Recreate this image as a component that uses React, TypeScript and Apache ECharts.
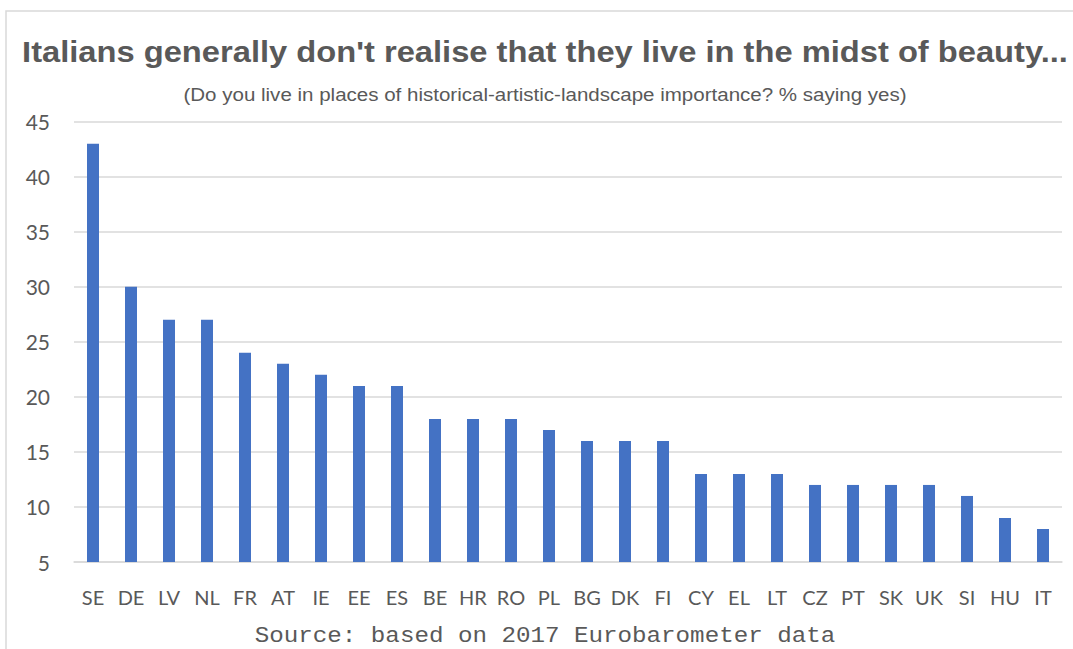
import React, { useEffect, useRef } from "react";
import * as echarts from "echarts";

// Country codes, ordered from highest to lowest share
const countries = [
  "SE", "DE", "LV", "NL", "FR", "AT", "IE", "EE", "ES", "BE", "HR", "RO", "PL",
  "BG", "DK", "FI", "CY", "EL", "LT", "CZ", "PT", "SK", "UK", "SI", "HU", "IT",
];

// % saying yes
const sayingYes = [
  43, 30, 27, 27, 24, 23, 22, 21, 21, 18, 18, 18, 17,
  16, 16, 16, 13, 13, 13, 12, 12, 12, 12, 11, 9, 8,
];

const yTicks = { min: 5, max: 45, interval: 5 };

const titleText = "Italians generally don't realise that they live in the midst of beauty...";
const subtitleText =
  "(Do you live in places of historical-artistic-landscape importance? % saying yes)";
const sourceText = "Source: based on 2017 Eurobarometer data";

const textColor = "#595959";
const gridColor = "#d9d9d9";

// Centered heading text, stretched horizontally around its own centre
function headingText(
  text: string,
  y: number,
  font: string,
  scaleX: number
) {
  return {
    type: "text",
    x: 545,
    y,
    scaleX,
    silent: true,
    style: {
      text,
      x: 0,
      y: 0,
      font,
      fill: textColor,
      textAlign: "center",
      textVerticalAlign: "middle",
    },
  };
}

export default function App() {
  const ref = useRef<HTMLDivElement>(null);

  useEffect(() => {
    if (!ref.current) return;
    const chart = echarts.init(ref.current, null, { renderer: "svg" });
    chart.setOption({
      animation: false,
      backgroundColor: "#ffffff",
      graphic: [
        {
          type: "rect",
          shape: { x: 6, y: 11, width: 1200, height: 800 },
          style: { fill: "none", stroke: gridColor, lineWidth: 1.5 },
          silent: true,
          z: -1,
        },
        headingText(titleText, 52, "bold 30px 'Liberation Sans'", 1.09),
        headingText(subtitleText, 94, "18.5px 'Liberation Sans'", 1.11),
        headingText(sourceText, 636, "22px 'Liberation Mono'", 1.1),
      ],
      grid: { left: 74, right: 11, top: 121.7, bottom: 87, containLabel: false },
      xAxis: {
        type: "category",
        data: countries,
        axisLine: { show: true, lineStyle: { color: gridColor, width: 1.5 } },
        axisTick: { show: false },
        axisLabel: {
          fontFamily: "Lato",
          fontSize: 20,
          color: textColor,
          margin: 25,
          interval: 0,
        },
      },
      yAxis: {
        type: "value",
        min: yTicks.min,
        max: yTicks.max,
        interval: yTicks.interval,
        axisLine: { show: false },
        axisTick: { show: false },
        splitLine: { lineStyle: { color: gridColor, width: 1.5 } },
        axisLabel: {
          fontFamily: "Lato",
          fontSize: 21,
          color: textColor,
          margin: 24,
        },
      },
      series: [
        {
          type: "bar",
          data: sayingYes,
          barWidth: 12,
          itemStyle: { color: "#4472c4" },
        },
      ],
    });
    return () => chart.dispose();
  }, []);

  return (
    <div
      ref={ref}
      style={{ position: "absolute", left: 0, top: 0, width: 1073, height: 649 }}
    />
  );
}
